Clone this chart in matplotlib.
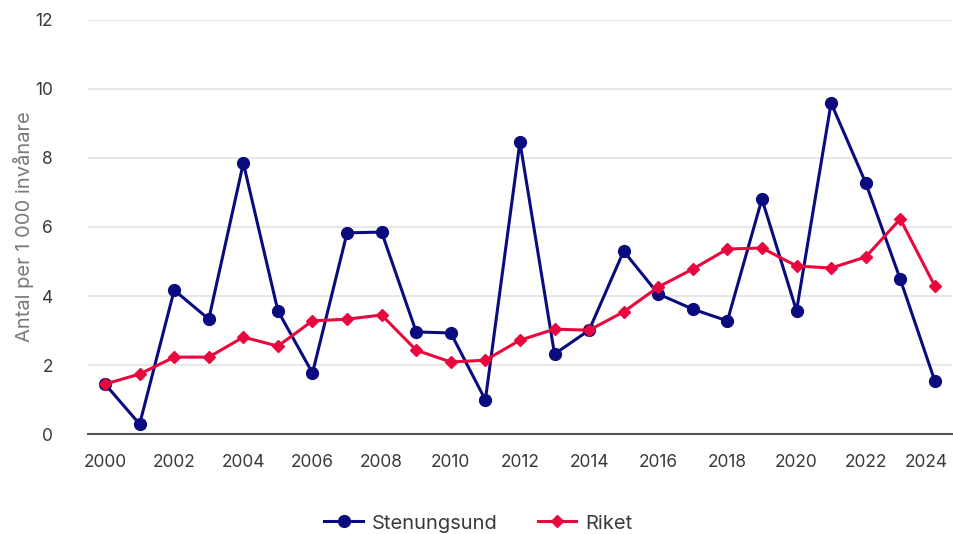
import matplotlib.pyplot as plt
import matplotlib.transforms as mtransforms

years = list(range(2000, 2025))
stenungsund = [1.45, 0.29, 4.17, 3.33, 7.85, 3.57, 1.77, 5.83, 5.85, 2.96, 2.93, 0.99,
               8.46, 2.32, 3.01, 5.30, 4.06, 3.62, 3.28, 6.81, 3.57, 9.59, 7.28, 4.49, 1.54]
riket = [1.45, 1.74, 2.23, 2.23, 2.81, 2.55, 3.28, 3.33, 3.45, 2.43, 2.09, 2.14,
         2.72, 3.04, 3.01, 3.54, 4.26, 4.78, 5.36, 5.39, 4.87, 4.81, 5.13, 6.23, 4.29]

NAVY = "#0b0b80"
RED = "#e8083e"

plt.rcParams["font.family"] = ["Inter", "DejaVu Sans"]

fig = plt.figure(figsize=(9.54, 5.34), dpi=100)
ax = fig.add_axes([0.092, 0.187, 0.906, 0.776])

ax.plot(years, stenungsund, color=NAVY, lw=2.2, marker="o", ms=8.5, label="Stenungsund", zorder=3)
ax.plot(years, riket, color=RED, lw=2.2, marker="D", ms=6, label="Riket", zorder=4)

ax.set_xlim(1999.5, 2024.5)
ax.set_ylim(0, 12)
ax.set_yticks(range(0, 13, 2))
ax.set_xticks(range(2000, 2025, 2))
ax.grid(axis="y", color="#e3e3e3", lw=1.2)
ax.set_axisbelow(True)
for s in ["top", "right", "left"]:
    ax.spines[s].set_visible(False)
ax.spines["bottom"].set_color("#555555")
ax.spines["bottom"].set_linewidth(1.5)
ax.tick_params(length=0, labelsize=12.5, colors="#3a3a3a", pad=14)
ax.tick_params(axis="y", pad=25)
ax.set_ylabel("Antal per 1 000 invånare", fontsize=14.5, color="#7a7a7a", labelpad=1)

# keep the last year label inside the figure
last = ax.get_xticklabels()[-1]
last.set_transform(last.get_transform() + mtransforms.ScaledTranslation(-6 / 72, 0, fig.dpi_scale_trans))

ax.legend(loc="upper center", bbox_to_anchor=(0.452, -0.15), ncol=2, frameon=False,
          fontsize=14.5, handlelength=1.9, handletextpad=0.45, columnspacing=2.0,
          labelcolor="#3a3a3a")

fig.savefig("out.png", dpi=100)
